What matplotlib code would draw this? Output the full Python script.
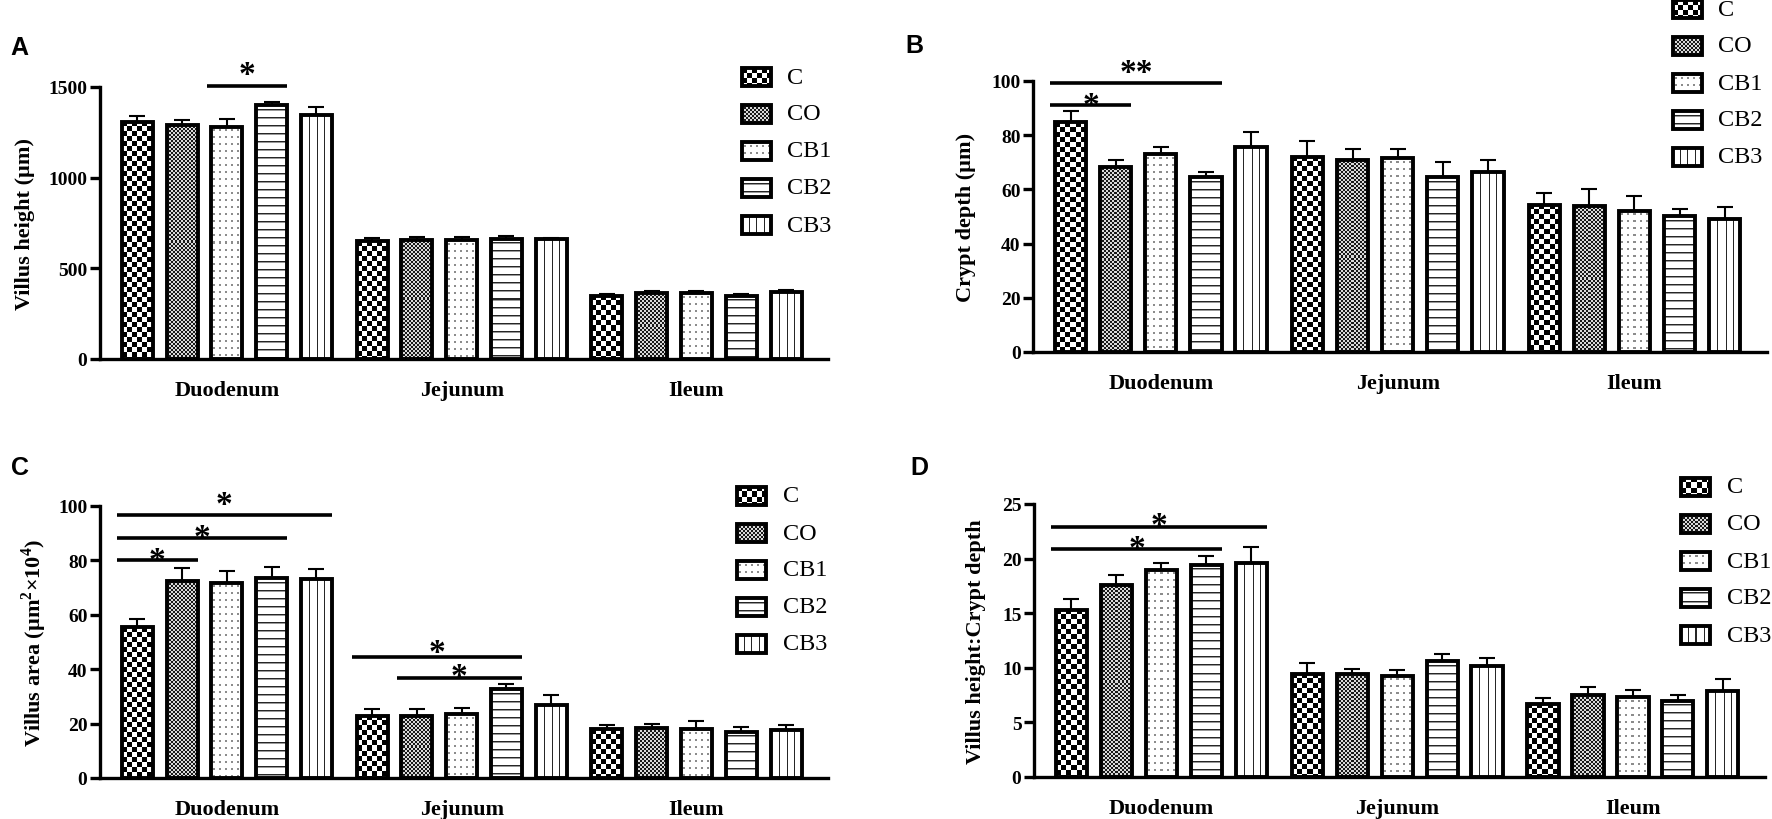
import numpy as np
import matplotlib
matplotlib.use('Agg')
import matplotlib.pyplot as plt
from matplotlib.patches import Rectangle

plt.rcParams['font.family'] = ['Liberation Serif', 'DejaVu Serif']
plt.rcParams['mathtext.fontset'] = 'custom'
plt.rcParams['mathtext.rm'] = 'Liberation Serif:bold'
plt.rcParams['mathtext.bf'] = 'Liberation Serif:bold'

segments = ['Duodenum', 'Jejunum', 'Ileum']
groups = ['C', 'CO', 'CB1', 'CB2', 'CB3']

# rows = segment, cols = group
height_mean = [[1309, 1291, 1281, 1398, 1348],
               [650, 657, 655, 662, 660],
               [350, 365, 362, 350, 368]]
height_err = [[30, 29, 41, 22, 41],
              [16, 15, 18, 18, 6],
              [10, 12, 12, 8, 10]]

crypt_mean = [[84.7, 68.3, 73.0, 64.4, 75.8],
              [72.0, 70.9, 71.5, 64.5, 66.5],
              [54.4, 54.0, 52.2, 50.1, 49.1]]
crypt_err = [[4.3, 2.5, 2.5, 2.2, 5.5],
             [5.9, 4.0, 3.5, 5.5, 4.5],
             [4.2, 6.0, 5.3, 2.7, 4.5]]

area_mean = [[55.5, 72.4, 71.7, 73.4, 73.0],
             [22.8, 22.8, 23.5, 32.6, 26.7],
             [18.0, 18.2, 18.0, 17.0, 17.8]]
area_err = [[3.0, 4.8, 4.4, 4.3, 4.0],
            [2.4, 2.6, 2.2, 1.8, 3.8],
            [1.5, 1.8, 3.0, 1.8, 1.7]]

ratio_mean = [[15.3, 17.6, 19.0, 19.45, 19.6],
              [9.45, 9.4, 9.27, 10.6, 10.2],
              [6.7, 7.5, 7.3, 7.0, 7.9]]
ratio_err = [[1.0, 0.9, 0.6, 0.75, 1.5],
             [0.95, 0.5, 0.5, 0.7, 0.7],
             [0.5, 0.7, 0.7, 0.5, 1.1]]

# significance: (segment, from group, to group, line y, label)
height_sig = [(0, 2, 3, 1505, '*')]
crypt_sig = [(0, 0, 1, 91.2, '*'), (0, 0, 3, 99.4, '**')]
area_sig = [(0, 0, 1, 80.3, '*'), (0, 0, 3, 88.4, '*'), (0, 0, 4, 96.7, '*'),
            (1, 0, 3, 44.5, '*'), (1, 1, 3, 36.8, '*')]
ratio_sig = [(0, 0, 3, 20.9, '*'), (0, 0, 4, 22.9, '*')]

W, H = 1772, 820
fig = plt.figure(figsize=(W / 100, H / 100), dpi=100)

PITCH = 0.1906
BW = 0.132
XLIM = (-0.54, 2.56)


def texture(kind, w, h):
    yy, xx = np.mgrid[0:h, 0:w]
    t = np.ones((h, w))
    if kind == 'C':
        t = ((xx // 5 + yy // 5) % 2).astype(float)
    elif kind == 'CO':
        t = np.where((xx // 2 + yy // 2) % 2 == 0, 0.1, 0.85)
    elif kind == 'CB1':
        t[((yy % 7) >= 3) & ((yy % 7) <= 4) & ((xx % 6) >= 2) & ((xx % 6) <= 3)] = 0.55
    elif kind == 'CB2':
        t[yy % 8 == 4] = 0.15
        t[yy % 8 == 5] = 0.6
    elif kind == 'CB3':
        for k in (1, 2, 3):
            c = int(round(k * w / 4))
            if c < w:
                t[:, c] = 0.15
    return t


def fig_rect(l, t, r, b):
    return [l / W, 1 - b / H, (r - l) / W, (b - t) / H]


def draw_panel(box, means, errs, sigs, ymax, ystep, ylabel, lab_x, legend, letter, star_dy):
    ax = fig.add_axes(fig_rect(*box))
    ax.set_xlim(*XLIM)
    ax.set_ylim(0, ymax)
    for s in range(3):
        for k in range(5):
            x = s + (k - 2) * PITCH
            m = means[s][k]
            x0, x1 = x - BW / 2, x + BW / 2
            (a, b) = ax.transData.transform((x0, 0))
            (c, d) = ax.transData.transform((x1, m))
            tw, th = max(int(round(c - a)), 1), max(int(round(d - b)), 1)
            ax.imshow(texture(groups[k], tw, th), cmap='gray', vmin=0, vmax=1,
                      extent=(x0, x1, 0, m), aspect='auto', interpolation='nearest', zorder=1)
            ax.add_patch(Rectangle((x0, 0), BW, m, facecolor='none', edgecolor='black',
                                   linewidth=2.8, zorder=3))
            ax.errorbar(x, m, yerr=[[0], [errs[s][k]]], fmt='none', ecolor='black',
                        elinewidth=1.5, capsize=6, capthick=1.5, zorder=2)
    for (s, i, j, y, lab), dy in zip(sigs, star_dy):
        xa = s + (i - 2) * PITCH - BW / 2 - 0.02
        xb = s + (j - 2) * PITCH + BW / 2
        ax.plot([xa, xb], [y, y], color='black', lw=2.6, clip_on=False, solid_capstyle='butt')
        ax.annotate(lab, xy=((xa + xb) / 2, y), xytext=(0, (dy - 16) / 1.389),
                    textcoords='offset points', ha='center', va='baseline',
                    fontsize=24, fontweight='bold', annotation_clip=False)
    ax.set_xlim(*XLIM)
    ax.set_ylim(0, ymax)
    ax.set_yticks(np.arange(0, ymax + ystep / 2, ystep))
    ax.set_xticks(range(3), segments)
    for sp in ('top', 'right'):
        ax.spines[sp].set_visible(False)
    for sp in ('left', 'bottom'):
        ax.spines[sp].set_linewidth(2.4)
    ax.tick_params(axis='y', direction='out', length=7, width=2.4, pad=2, labelsize=14)
    ax.tick_params(axis='x', length=0, pad=15, labelsize=16)
    for t in ax.get_yticklabels() + ax.get_xticklabels():
        t.set_fontweight('bold')
    ax.set_ylabel(ylabel, fontsize=16, fontweight='bold')
    ax.yaxis.label.set_va('center')
    ax.yaxis.set_label_coords((lab_x - box[0]) / (box[2] - box[0]), 0.5)

    sx, sy0, tx = legend
    for k, g in enumerate(groups):
        cy = sy0 + 37 * k
        lax = fig.add_axes(fig_rect(sx, cy - 9, sx + 29, cy + 9))
        lax.set_axis_off()
        lax.imshow(texture(g, 29, 18), cmap='gray', vmin=0, vmax=1, extent=(0, 1, 0, 1),
                   aspect='auto', interpolation='nearest')
        lax.add_patch(Rectangle((0, 0), 1, 1, facecolor='none', edgecolor='black',
                                linewidth=2.8, clip_on=False))
        lax.set_xlim(0, 1)
        lax.set_ylim(0, 1)
        fig.text(tx / W, 1 - cy / H, g, fontsize=17.5, ha='left', va='center')

    fig.text(letter[1] / W, 1 - letter[2] / H, letter[0], fontsize=18, fontweight='bold',
             family='Liberation Sans', ha='left', va='center')
    return ax


draw_panel((100, 88, 828, 360), height_mean, height_err, height_sig, 1500, 500,
           'Villus height (µm)', 25, (742, 78, 787), ('A', 10, 48), [19])
draw_panel((1033, 82, 1767, 353), crypt_mean, crypt_err, crypt_sig, 100, 20,
           'Crypt depth (µm)', 966, (1673, 10, 1718), ('B', 905, 46), [7, 18])
draw_panel((100, 507, 828, 779), area_mean, area_err, area_sig, 100, 20,
           r'Villus area (µm$^{2}$×10$^{4}$)', 34, (737, 497, 783), ('C', 11, 468),
           [7, 8, 18, 12, 9])
draw_panel((1034, 505, 1765, 778), ratio_mean, ratio_err, ratio_sig, 25, 5,
           'Villus height:Crypt depth', 976, (1681, 488, 1727), ('D', 910, 468), [8, 9])

fig.savefig('out.png', dpi=100)
